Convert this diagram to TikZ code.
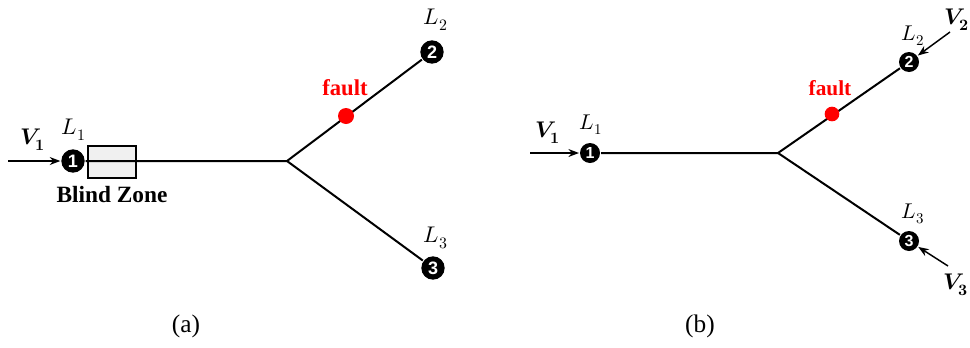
\documentclass[tikz,border=0pt]{standalone}
\usepackage{amsmath}
\usepackage{unicode-math}
\setmainfont{Liberation Serif}
\setmathfont{Latin Modern Math}
\newfontfamily\numfont{Liberation Sans}
\usepackage{tikz}
\usetikzlibrary{arrows.meta}
\tikzset{term/.style={circle, fill=black, text=white, inner sep=0pt,
  minimum size=17.5pt, font=\numfont\bfseries\fontsize{13.5}{13.5}\selectfont},
  termb/.style={term, minimum size=15pt, font=\numfont\bfseries\fontsize{12}{12}\selectfont},
  lbl/.style={inner sep=1pt, font=\fontsize{17}{20}\selectfont},
  faultdot/.style={circle, fill=red, inner sep=0pt, minimum size=12pt},
  faultlbl/.style={text=red, inner sep=1pt, font=\bfseries\fontsize{17}{20}\selectfont},
  blind/.style={draw, line width=0.9pt, fill=gray!12, minimum width=36pt,
  minimum height=24pt, inner sep=0pt}}

\begin{document}
\begin{tikzpicture}[x=0.75pt, y=-0.75pt, >=Stealth, line width=1.5pt]
  \useasboundingbox (0,0) rectangle (970,347);
  % (a)
  \node[blind] (box) at (112,162) {};
  \node[term] (a1) at (73,161)  {1};
  \node[term] (a2) at (432,52)  {2};
  \node[term] (a3) at (433,268) {3};
  \coordinate (aj) at (287,161);
  \coordinate (av) at (8,161);
  \draw (a1) -- (aj) -- (a2);
  \draw (aj) -- (a3);
  \draw[->, line width=1.1pt] (av) -- (a1);
  \node[faultdot] (af) at (346,116) {};
  \node[faultlbl] at (345,88) {fault};
  \node[lbl] at (74,130)  {$L_1$};
  \node[lbl] at (436,20)  {$L_2$};
  \node[lbl] at (436,238) {$L_3$};
  \node[lbl] at (33,140)  {$\symbfit{V}_{\symbf{1}}$};
  \node[lbl, font=\bfseries\fontsize{17.5}{20}\selectfont] at (112,195) {Blind Zone};
  \node[lbl, font=\fontsize{19}{22}\selectfont] at (186,326) {(a)};
  % (b)
  \node[termb] (b1) at (590,153) {1};
  \node[termb] (b2) at (909,62)  {2};
  \node[termb] (b3) at (909,241) {3};
  \coordinate (bj) at (778,153);
  \coordinate (bv1) at (530,153);
  \coordinate (bv2) at (950,32);
  \coordinate (bv3) at (948,266);
  \draw (b1) -- (bj) -- (b2);
  \draw (bj) -- (b3);
  \draw[->, line width=1.1pt] (bv1) -- (b1);
  \draw[->, line width=1.1pt] (bv2) -- (b2);
  \draw[->, line width=1.1pt] (bv3) -- (b3);
  \node[faultdot, minimum size=11pt] (bf) at (832,114) {};
  \node[faultlbl, font=\bfseries\fontsize{16}{19}\selectfont] at (830,88) {fault};
  \node[lbl, font=\fontsize{16}{19}\selectfont] at (591,125) {$L_1$};
  \node[lbl, font=\fontsize{16}{19}\selectfont] at (913,36)  {$L_2$};
  \node[lbl, font=\fontsize{16}{19}\selectfont] at (913,214) {$L_3$};
  \node[lbl] at (548,133) {$\symbfit{V}_{\symbf{1}}$};
  \node[lbl] at (957,20)  {$\symbfit{V}_{\symbf{2}}$};
  \node[lbl] at (956,285) {$\symbfit{V}_{\symbf{3}}$};
  \node[lbl, font=\fontsize{19}{22}\selectfont] at (700,326) {(b)};
\end{tikzpicture}
\end{document}
